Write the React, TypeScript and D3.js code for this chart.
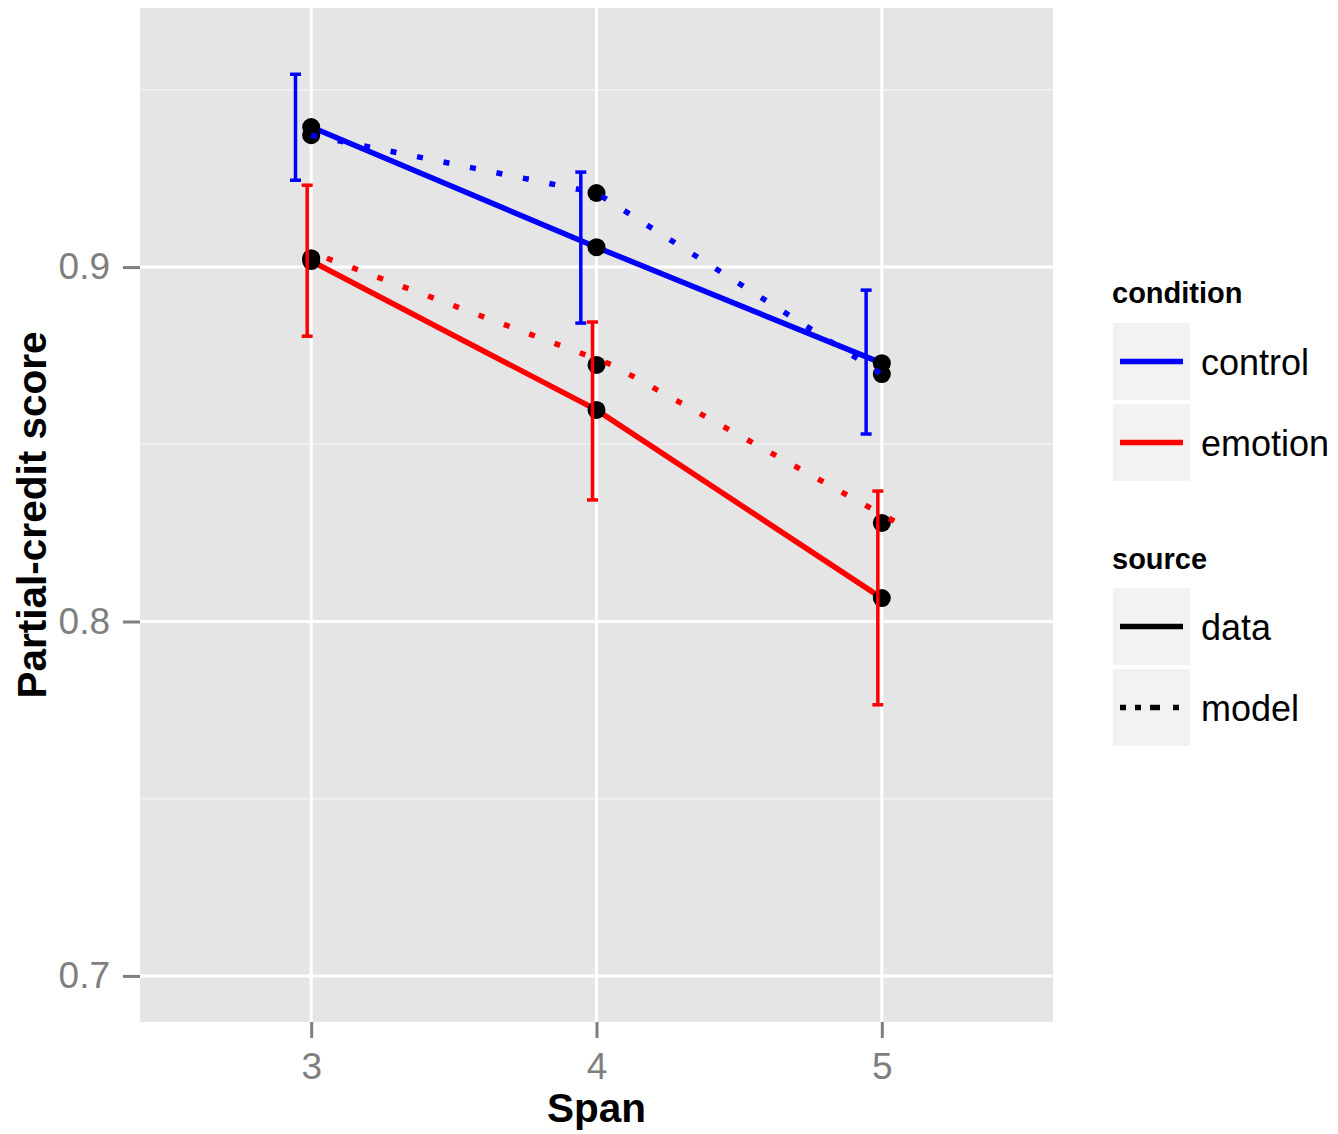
import React, { useRef, useEffect } from "react";
import * as d3 from "d3";

const spans = [3, 4, 5];
const conditions = ["control", "emotion"];
const sources = ["data", "model"];

const controlData = [0.9395, 0.9056, 0.8729];
const controlModel = [0.9372, 0.9209, 0.8698];
const emotionData = [0.9017, 0.8597, 0.8066];
const emotionModel = [0.9025, 0.8724, 0.8278];

const controlLower = [0.9245, 0.8842, 0.8529];
const controlUpper = [0.9544, 0.9268, 0.8935];
const emotionLower = [0.8805, 0.8343, 0.7765];
const emotionUpper = [0.9231, 0.8845, 0.8368];

const yTicks = [0.7, 0.8, 0.9];
const yMinor = [0.75, 0.85, 0.95];

const colors: Record<string, string> = { control: "#0000ff", emotion: "#ff0000" };
const dotted = "6,21";

const App = () => {
  const ref = useRef<SVGSVGElement>(null);

  useEffect(() => {
    document.body.style.margin = "0";
    if (!ref.current) return;
    const svg = d3.select(ref.current);
    svg.selectAll("*").remove();

    const left = 140, top = 8, right = 1053, bottom = 1022;
    const x = d3.scaleLinear().domain([2.4, 5.6]).range([left, right]);
    const y = d3.scaleLinear().domain([0.687, 0.9731]).range([bottom, top]);
    const font = "Liberation Sans, Arial, sans-serif";

    svg.append("rect")
      .attr("x", left).attr("y", top)
      .attr("width", right - left).attr("height", bottom - top)
      .attr("fill", "#e5e5e5");

    svg.selectAll(".minor").data(yMinor).enter().append("line")
      .attr("x1", left).attr("x2", right)
      .attr("y1", (d) => y(d)).attr("y2", (d) => y(d))
      .attr("stroke", "#f2f2f2").attr("stroke-width", 1.5);

    svg.selectAll(".hmajor").data(yTicks).enter().append("line")
      .attr("x1", left).attr("x2", right)
      .attr("y1", (d) => y(d)).attr("y2", (d) => y(d))
      .attr("stroke", "#ffffff").attr("stroke-width", 3);

    svg.selectAll(".vmajor").data(spans).enter().append("line")
      .attr("y1", top).attr("y2", bottom)
      .attr("x1", (d) => x(d)).attr("x2", (d) => x(d))
      .attr("stroke", "#ffffff").attr("stroke-width", 3);

    // axes
    const yAxis = svg.append("g").attr("transform", `translate(${left},0)`)
      .call(d3.axisLeft(y).tickValues(yTicks).tickSize(17).tickPadding(13).tickFormat(d3.format(".1f")));
    yAxis.select(".domain").remove();
    yAxis.selectAll("line").attr("stroke", "#7f7f7f").attr("stroke-width", 3);
    yAxis.selectAll("text").attr("fill", "#7f7f7f").style("font-size", "37px").style("font-family", font);

    const xAxis = svg.append("g").attr("transform", `translate(0,${bottom})`)
      .call(d3.axisBottom(x).tickValues(spans).tickSize(16).tickPadding(15).tickFormat(d3.format("d")));
    xAxis.select(".domain").remove();
    xAxis.selectAll("line").attr("stroke", "#7f7f7f").attr("stroke-width", 3);
    xAxis.selectAll("text").attr("fill", "#7f7f7f").style("font-size", "37px").style("font-family", font);

    svg.append("text")
      .attr("x", x(4)).attr("y", 1122)
      .attr("text-anchor", "middle")
      .style("font-family", font).style("font-size", "40.5px").style("font-weight", "bold")
      .text("Span");

    svg.append("text")
      .attr("transform", `translate(46,${(top + bottom) / 2}) rotate(-90)`)
      .attr("text-anchor", "middle")
      .style("font-family", font).style("font-size", "40.5px").style("font-weight", "bold")
      .text("Partial-credit score");

    const series = [
      { cond: "control", src: "data", vals: controlData, dx: 0 },
      { cond: "control", src: "model", vals: controlModel, dx: 0 },
      { cond: "emotion", src: "data", vals: emotionData, dx: 0 },
      { cond: "emotion", src: "model", vals: emotionModel, dx: 0.055 },
    ];
    const errors = [
      { cond: "control", lo: controlLower, hi: controlUpper, dx: -0.055 },
      { cond: "emotion", lo: emotionLower, hi: emotionUpper, dx: -0.014 },
    ];

    const line = (dx: number) =>
      d3.line<number>().x((_, i) => x(spans[i] + dx)).y((d) => y(d));

    // data lines
    series.filter((s) => s.src === "data").forEach((s) => {
      svg.append("path").datum(s.vals)
        .attr("d", line(s.dx)).attr("fill", "none")
        .attr("stroke", colors[s.cond]).attr("stroke-width", 5.5);
    });

    // points
    series.forEach((s) => {
      svg.append("g").selectAll("circle").data(s.vals).enter().append("circle")
        .attr("cx", (_, i) => x(spans[i])).attr("cy", (d) => y(d))
        .attr("r", 9).attr("fill", "#000");
    });

    // error bars
    errors.forEach((e) => {
      const g = svg.append("g").attr("stroke", colors[e.cond]).attr("stroke-width", 3.5);
      spans.forEach((s, i) => {
        const cx = x(s + e.dx);
        g.append("line").attr("x1", cx).attr("x2", cx).attr("y1", y(e.lo[i])).attr("y2", y(e.hi[i]));
        g.append("line").attr("x1", cx - 5.5).attr("x2", cx + 5.5).attr("y1", y(e.lo[i])).attr("y2", y(e.lo[i]));
        g.append("line").attr("x1", cx - 5.5).attr("x2", cx + 5.5).attr("y1", y(e.hi[i])).attr("y2", y(e.hi[i]));
      });
    });

    // model lines
    series.filter((s) => s.src === "model").forEach((s) => {
      svg.append("path").datum(s.vals)
        .attr("d", line(s.dx)).attr("fill", "none")
        .attr("stroke", colors[s.cond]).attr("stroke-width", 5.5)
        .attr("stroke-dasharray", dotted);
    });

    // legends
    const lx = 1113, kw = 77, kh = 77;
    const legend = (title: string, titleY: number, keysTop: number, items: string[], style: (k: string) => { color: string; dash: string | null }) => {
      svg.append("text").attr("x", 1112).attr("y", titleY)
        .style("font-family", font).style("font-size", "29px").style("font-weight", "bold")
        .text(title);
      items.forEach((k, i) => {
        const ky = keysTop + i * (kh + 4);
        svg.append("rect").attr("x", lx).attr("y", ky).attr("width", kw).attr("height", kh).attr("fill", "#f2f2f2");
        const st = style(k);
        svg.append("line")
          .attr("x1", lx + 7).attr("x2", lx + kw - 7)
          .attr("y1", ky + kh / 2).attr("y2", ky + kh / 2)
          .attr("stroke", st.color).attr("stroke-width", 5.5)
          .attr("stroke-dasharray", st.dash);
        svg.append("text").attr("x", 1201).attr("y", ky + kh / 2 + 13)
          .style("font-family", font).style("font-size", "36px")
          .text(k);
      });
    };
    legend("condition", 303, 323, conditions, (k) => ({ color: colors[k], dash: null }));
    legend("source", 569, 588, sources, (k) => ({ color: "#000", dash: k === "model" ? "6,9,6,9,10,13" : null }));
  }, []);

  return <svg ref={ref} width={1338} height={1134} style={{ display: "block" }} />;
};

export default App;
